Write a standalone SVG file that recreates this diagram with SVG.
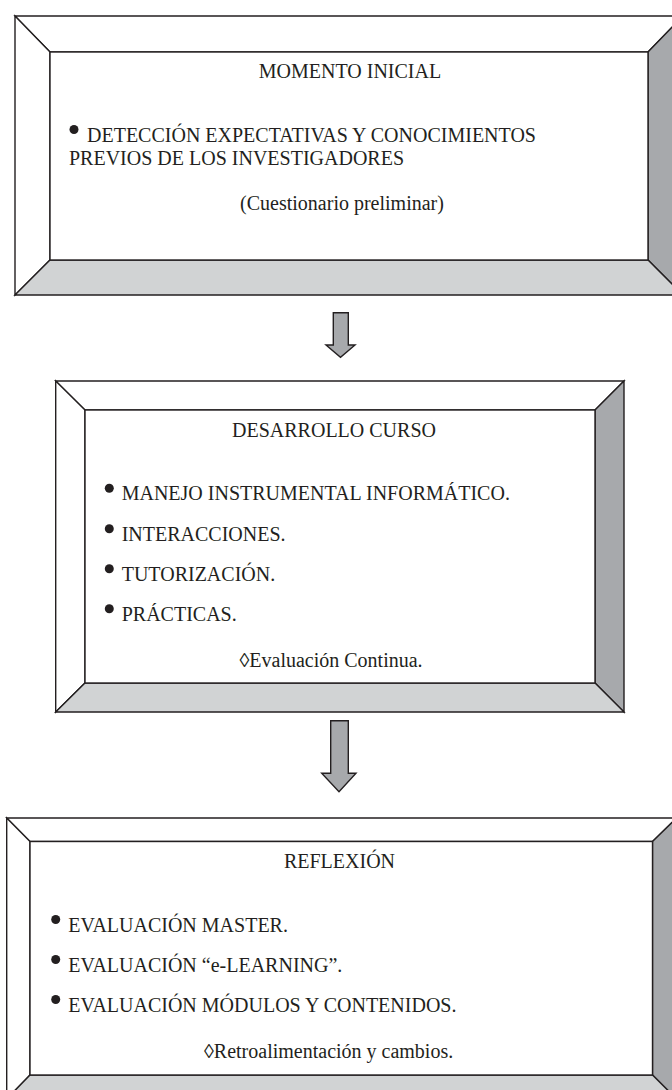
<svg xmlns="http://www.w3.org/2000/svg" width="672" height="1090" viewBox="0 0 672 1090">
<style>
.edge{stroke:#231f20;stroke-width:1.4;stroke-linejoin:miter}
.w{fill:#ffffff}
.dk{fill:#a7a9ac}
.lt{fill:#d1d3d4}
.t{font-family:"Liberation Serif","Times New Roman","DejaVu Serif",serif;font-size:20px;fill:#231f20}
.c{text-anchor:middle}
.bullet{fill:#231f20}
.arrow{fill:#a7a9ac;stroke:#231f20;stroke-width:1.4;stroke-linejoin:miter}
</style>
<rect width="672" height="1090" fill="#ffffff"/>

<g id="node-momento-inicial">
  <polygon class="edge w" points="15,16 683,16 648,52 50,52"/>
  <polygon class="edge w" points="15,16 50,52 50,260 15,295"/>
  <polygon class="edge dk" points="683,16 683,295 648,260 648,52"/>
  <polygon class="edge lt" points="15,295 50,260 648,260 683,295"/>
  <rect class="edge w" x="50" y="52" width="598" height="208"/>
  <text class="t c" x="350" y="78">MOMENTO INICIAL</text>
  <circle class="bullet" cx="74" cy="129.5" r="4.5"/>
  <text class="t" x="87" y="141.7">DETECCIÓN EXPECTATIVAS Y CONOCIMIENTOS</text>
  <text class="t" x="69" y="165">PREVIOS DE LOS INVESTIGADORES</text>
  <text class="t c" x="342" y="210">(Cuestionario preliminar)</text>
</g>

<g id="node-desarrollo-curso">
  <polygon class="edge w" points="55.7,381 624,381 595,410 85,410"/>
  <polygon class="edge w" points="55.7,381 85,410 85,683 55.7,712"/>
  <polygon class="edge dk" points="624,381 624,712 595,683 595,410"/>
  <polygon class="edge lt" points="55.7,712 85,683 595,683 624,712"/>
  <rect class="edge w" x="85" y="410" width="510" height="273"/>
  <text class="t c" x="334" y="436.7">DESARROLLO CURSO</text>
  <circle class="bullet" cx="109.3" cy="488.3" r="4.5"/>
  <text class="t" x="121.7" y="500">MANEJO INSTRUMENTAL INFORMÁTICO.</text>
  <circle class="bullet" cx="109.3" cy="528.8" r="4.5"/>
  <text class="t" x="121.7" y="540.7">INTERACCIONES.</text>
  <circle class="bullet" cx="109.3" cy="568.8" r="4.5"/>
  <text class="t" x="121.7" y="580.7">TUTORIZACIÓN.</text>
  <circle class="bullet" cx="109.3" cy="608.8" r="4.5"/>
  <text class="t" x="121.7" y="620.7">PRÁCTICAS.</text>
  <text class="t c" x="331" y="667">◊Evaluación Continua.</text>
</g>

<g id="node-reflexion">
  <polygon class="edge w" points="6.7,818 676.5,818 652.5,841.5 30,841.5"/>
  <polygon class="edge w" points="6.7,818 30,841.5 30,1075 6.7,1099"/>
  <polygon class="edge dk" points="676.5,818 676.5,1099 652.5,1075 652.5,841.5"/>
  <polygon class="edge lt" points="6.7,1099 30,1075 652.5,1075 676.5,1099"/>
  <rect class="edge w" x="30" y="841.5" width="622.5" height="233.5"/>
  <text class="t c" x="339.5" y="868">REFLEXIÓN</text>
  <circle class="bullet" cx="55.7" cy="919.5" r="4.5"/>
  <text class="t" x="68.3" y="931.7">EVALUACIÓN MASTER.</text>
  <circle class="bullet" cx="55.7" cy="959.5" r="4.5"/>
  <text class="t" x="68.3" y="971.7">EVALUACIÓN “e-LEARNING”.</text>
  <circle class="bullet" cx="55.7" cy="999.5" r="4.5"/>
  <text class="t" x="68.3" y="1011.7">EVALUACIÓN MÓDULOS Y CONTENIDOS.</text>
  <text class="t c" x="328.6" y="1058">◊Retroalimentación y cambios.</text>
</g>

<g id="connectors">
  <polygon class="arrow" points="333.3,312.7 348.3,312.7 348.3,345 355,345 340.5,357.3 326,345 333.3,345"/>
  <polygon class="arrow" points="330.7,720.7 348.3,720.7 348.3,773.3 356,773.3 339,791.7 321.7,773.3 330.7,773.3"/>
</g>
</svg>
